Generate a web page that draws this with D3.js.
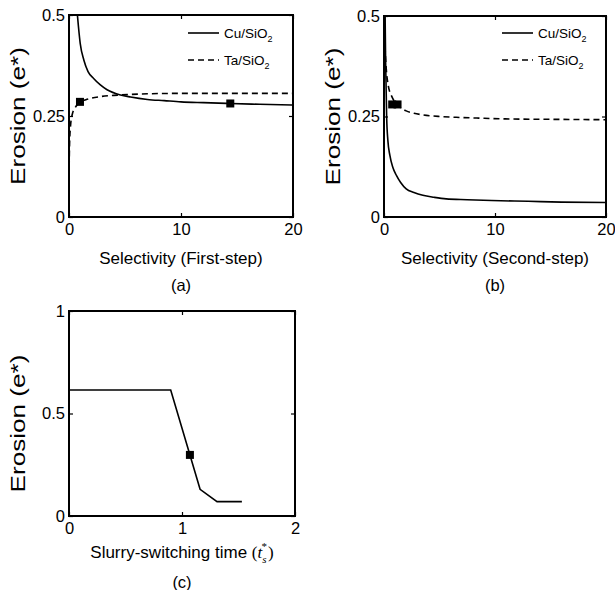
<!DOCTYPE html>
<html><head><meta charset="utf-8">
<script src="https://cdn.jsdelivr.net/npm/d3@7"></script>
<style>
body{margin:0;background:#fff;}
text{font-family:"Liberation Sans",Arial,sans-serif;fill:#000;}
</style></head>
<body><svg id="c" width="615" height="590"></svg>
<script>
// Panel (a): first-step selectivity
const aCuX = [0.75, 1.0, 1.33, 1.7, 2.2, 2.8, 3.4, 4.6, 5.5, 7, 8.5, 10, 12, 14.4, 17, 20];
const aCuY = [0.5, 0.43, 0.388, 0.36, 0.343, 0.327, 0.315, 0.302, 0.297, 0.291, 0.288, 0.285, 0.283, 0.281, 0.279, 0.277];
const aTaX = [0, 0.05, 0.15, 0.3, 0.5, 0.8, 1.0, 1.5, 2, 2.8, 4, 5.2, 7, 10, 15, 20];
const aTaY = [0.1, 0.18, 0.23, 0.255, 0.268, 0.28, 0.285, 0.29, 0.294, 0.298, 0.301, 0.303, 0.305, 0.306, 0.306, 0.306];
const aMarkX = [0.98, 14.4];
const aMarkY = [0.285, 0.281];
// Panel (b): second-step selectivity
const bCuX = [0.1, 0.15, 0.24, 0.35, 0.53, 0.8, 1.13, 1.5, 2.0, 2.7, 3.5, 4.5, 5.6, 7.5, 9.7, 13, 16, 20];
const bCuY = [0.5, 0.38, 0.248, 0.19, 0.153, 0.123, 0.103, 0.086, 0.070, 0.061, 0.054, 0.049, 0.045, 0.043, 0.041, 0.039, 0.037, 0.036];
const bTaX = [0.02, 0.1, 0.2, 0.39, 0.7, 1.13, 1.5, 2, 2.7, 3.5, 5, 6.5, 8.5, 10.9, 15, 20];
const bTaY = [0.5, 0.42, 0.37, 0.326, 0.3, 0.281, 0.272, 0.264, 0.258, 0.254, 0.25, 0.248, 0.246, 0.244, 0.243, 0.242];
const bMarkX = [0.74, 1.22];
const bMarkY = [0.28, 0.28];
// Panel (c): slurry-switching time
const cX = [0, 0.9, 1.16, 1.31, 1.53];
const cY = [0.615, 0.615, 0.13, 0.07, 0.07];
const cMarkX = [1.07];
const cMarkY = [0.298];
// tick labels
const selTicks = [0, 10, 20];
const abYTicks = [0, 0.25, 0.5];
const cXTicks = [0, 1, 2];
const cYTicks = [0, 0.5, 1];
const legendNames = ["Cu/SiO", "Ta/SiO"];

const svg = d3.select("#c");
const zip = (xs, ys) => xs.map((x, i) => [x, ys[i]]);

function panel(o) {
  const g = svg.append("g");
  const x = d3.scaleLinear().domain(o.xd).range([o.x0, o.x1]);
  const y = d3.scaleLinear().domain(o.yd).range([o.y1, o.y0]);
  const tl = 4;
  const ax = [
    [d3.axisBottom(x).tickValues(o.xt).tickSize(-tl).tickPadding(6).tickFormat(d3.format("")), `translate(0,${o.y1})`],
    [d3.axisTop(x).tickValues(o.xt).tickSize(-tl).tickFormat(""), `translate(0,${o.y0})`],
    [d3.axisLeft(y).tickValues(o.yt).tickSize(-tl).tickPadding(4).tickFormat(d3.format("")), `translate(${o.x0},0)`],
    [d3.axisRight(y).tickValues(o.yt).tickSize(-tl).tickFormat(""), `translate(${o.x1},0)`]
  ];
  ax.forEach(([a, t]) => {
    const ag = g.append("g").attr("transform", t).call(a);
    ag.select(".domain").remove();
    ag.selectAll("line").attr("stroke", "#000").attr("stroke-width", 1.2);
    ag.selectAll("text").attr("font-size", 16.5).attr("fill", "#000")
      .attr("font-family", "Liberation Sans, Arial, sans-serif");
  });
  const clipId = "clip" + o.id;
  svg.append("clipPath").attr("id", clipId).append("rect")
    .attr("x", o.x0).attr("y", o.y0).attr("width", o.x1 - o.x0).attr("height", o.y1 - o.y0);
  const line = d3.line().x(d => x(d[0])).y(d => y(d[1])).curve(o.curve || d3.curveLinear);
  o.series.forEach(s => {
    g.append("path").attr("d", line(s.data)).attr("fill", "none").attr("stroke", "#000")
      .attr("stroke-width", 1.6).attr("stroke-dasharray", s.dash ? "6,4" : null)
      .attr("clip-path", `url(#${clipId})`);
  });
  g.selectAll("rect.m").data(o.marks).enter().append("rect").attr("class", "m")
    .attr("x", d => x(d[0]) - 4).attr("y", d => y(d[1]) - 4).attr("width", 8).attr("height", 8)
    .attr("fill", "#000");
  g.append("rect").attr("x", o.x0).attr("y", o.y0).attr("width", o.x1 - o.x0).attr("height", o.y1 - o.y0)
    .attr("fill", "none").attr("stroke", "#000").attr("stroke-width", 2);
  // y label
  g.append("text").attr("transform", `translate(${o.x0 - 44},${(o.y0 + o.y1) / 2 + (o.ylOff || 0)}) rotate(-90)`)
    .attr("text-anchor", "middle").attr("font-size", 19.5)
    .attr("textLength", 138).attr("lengthAdjust", "spacingAndGlyphs").text("Erosion (e*)");
  return {g, x, y};
}

function legend(g, lx, ly) {
  [0, 1].forEach(i => {
    const yy = ly + i * 27;
    g.append("line").attr("x1", lx).attr("x2", lx + 31).attr("y1", yy).attr("y2", yy)
      .attr("stroke", "#000").attr("stroke-width", 1.6).attr("stroke-dasharray", i ? "6,4" : null);
    const t = g.append("text").attr("x", lx + 36).attr("y", yy + 5).attr("font-size", 13.5);
    t.append("tspan").text(legendNames[i]);
    t.append("tspan").attr("font-size", 9).attr("dy", 4).text("2");
  });
}

// (a)
const pa = panel({id: "a", x0: 69, x1: 293, y0: 15, y1: 217, xd: [0, 20], yd: [0, 0.5], xt: selTicks, yt: abYTicks,
  curve: d3.curveMonotoneX,
  series: [{data: zip(aCuX, aCuY)}, {data: zip(aTaX, aTaY), dash: true}], marks: zip(aMarkX, aMarkY)});
legend(pa.g, 188, 33);
pa.g.append("text").attr("x", 181).attr("y", 264).attr("text-anchor", "middle").attr("font-size", 17).text("Selectivity (First-step)");
pa.g.append("text").attr("x", 181).attr("y", 291).attr("text-anchor", "middle").attr("font-size", 16.5).text("(a)");

// (b)
const pb = panel({id: "b", x0: 384, x1: 606, y0: 16, y1: 217, xd: [0, 20], yd: [0, 0.5], xt: selTicks, yt: abYTicks,
  curve: d3.curveMonotoneX,
  series: [{data: zip(bCuX, bCuY)}, {data: zip(bTaX, bTaY), dash: true}], marks: zip(bMarkX, bMarkY)});
legend(pb.g, 502, 33);
pb.g.append("text").attr("x", 495).attr("y", 264).attr("text-anchor", "middle").attr("font-size", 17).text("Selectivity (Second-step)");
pb.g.append("text").attr("x", 495).attr("y", 291).attr("text-anchor", "middle").attr("font-size", 16.5).text("(b)");

// (c)
const pc = panel({id: "c", x0: 69, x1: 295, y0: 311, y1: 516, xd: [0, 2], yd: [0, 1], xt: cXTicks, yt: cYTicks,
  series: [{data: zip(cX, cY)}], marks: zip(cMarkX, cMarkY), ylOff: 10});
const serif = "Liberation Serif, Times New Roman, serif";
const tc = pc.g.append("text").attr("x", 182).attr("y", 558).attr("text-anchor", "middle").attr("font-size", 17);
tc.append("tspan").text("Slurry-switching time ");
tc.append("tspan").attr("font-family", serif).text("(");
tc.append("tspan").attr("font-family", serif).attr("font-style", "italic").text("t");
tc.append("tspan").attr("font-family", serif).attr("font-style", "italic").attr("font-size", 11).attr("dy", 5).text("s");
tc.append("tspan").attr("font-family", serif).attr("font-size", 11).attr("dy", -13).attr("dx", -5).text("*");
tc.append("tspan").attr("font-family", serif).attr("dy", 8).attr("dx", 1).text(")");
pc.g.append("text").attr("x", 182).attr("y", 588).attr("text-anchor", "middle").attr("font-size", 16.5).text("(c)");
</script></body></html>
